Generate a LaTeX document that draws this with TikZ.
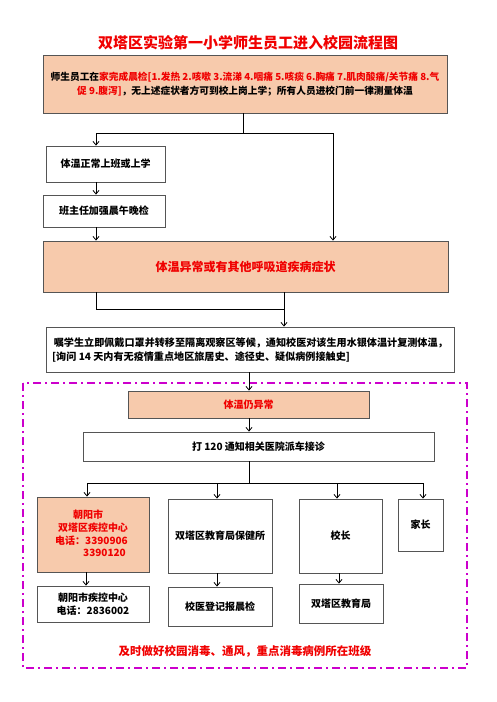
\documentclass[tikz,border=0pt]{standalone}
\usepackage{fontspec}
\setmainfont{Noto Sans CJK SC}
\usetikzlibrary{arrows.meta}
\definecolor{peach}{HTML}{F7CAAC}
\definecolor{bord}{HTML}{555555}
\definecolor{rd}{HTML}{F00000}
\definecolor{mag}{HTML}{CC00CC}
\begin{document}
\begin{tikzpicture}[x=1pt,y=-1pt,
  box/.style={draw=bord,line width=0.9pt,fill=white,inner sep=0pt,font=\bfseries\fontsize{10}{12}\selectfont,align=center},
  pbox/.style={box,fill=peach,text=rd},
  arr/.style={line width=0.8pt,-{Straight Barb[length=3.5pt,width=6pt]}},
  ln/.style={line width=0.8pt}]
\useasboundingbox (0,0) rectangle (496,702);
\node[font=\bfseries\fontsize{15}{18}\selectfont,text=rd] (title) at (248,43) {双塔区实验第一小学师生员工进入校园流程图};
\node[pbox,text=black,minimum width=404pt,minimum height=58pt,font=\bfseries\fontsize{9.7}{13.5}\selectfont] (top) at (245,84)
 {师生员工在\textcolor{rd}{家完成晨检[1.发热 2.咳嗽 3.流涕 4.咽痛 5.咳痰 6.胸痛 7.肌肉酸痛/关节痛 8.气}\\\textcolor{rd}{促 9.腹泻]}，无上述症状者方可到校上岗上学；所有人员进校门前一律测量体温};
\node[box,minimum width=119pt,minimum height=36pt] (n1) at (105.5,164) {体温正常上班或上学};
\node[box,minimum width=122pt,minimum height=32pt] (n2) at (104,211) {班主任加强晨午晚检};
\node[pbox,minimum width=405pt,minimum height=51pt,font=\bfseries\fontsize{12}{14}\selectfont] (big) at (245.5,266.5) {体温异常或有其他呼吸道疾病症状};
\node[box,minimum width=408pt,minimum height=45pt] (note) at (250,349.5) {};
\node[font=\bfseries\fontsize{10.1}{14}\selectfont,align=left,anchor=west,inner sep=0pt] (notet) at (52,350)
 {\,嘱学生立即佩戴口罩并转移至隔离观察区等候，通知校医对该生用水银体温计复测体温，\\{}[询问 14 天内有无疫情重点地区旅居史、途径史、疑似病例接触史]};
\draw[mag,line width=2pt,dash pattern=on 8pt off 4pt on 2pt off 4pt] (23,383) rectangle (467,668);
\node[pbox,minimum width=241pt,minimum height=27pt] (still) at (248.5,404.5) {体温仍异常};
\node[box,minimum width=351pt,minimum height=29pt] (call) at (258.5,446.5) {打 120 通知相关医院派车接诊};
\node[pbox,minimum width=112pt,minimum height=75pt] (A) at (93,534.5) {};
\node[font=\bfseries\fontsize{10}{12}\selectfont,text=rd,inner sep=0pt] (A1) at (88,515) {朝阳市};
\node[font=\bfseries\fontsize{10}{12}\selectfont,text=rd,inner sep=0pt] (A2t) at (93,528) {双塔区疾控中心};
\node[font=\bfseries\fontsize{10}{12}\selectfont,text=rd,inner sep=0pt,anchor=west] (A3) at (55,541) {电话：3390906};
\node[font=\bfseries\fontsize{10}{12}\selectfont,text=rd,inner sep=0pt,anchor=west] (A4) at (83,553) {3390120};
\node[box,minimum width=104pt,minimum height=74pt] (B) at (220,536) {双塔区教育局保健所};
\node[box,minimum width=83pt,minimum height=74pt] (C) at (340.5,536) {校长};
\node[box,minimum width=45pt,minimum height=52pt] (D) at (420.5,525) {家长};
\node[box,minimum width=112pt,minimum height=36pt,font=\bfseries\fontsize{10}{13}\selectfont] (AA) at (93,604) {朝阳市疾控中心\\电话：2836002};
\node[box,minimum width=104pt,minimum height=39pt] (BB) at (220,606.5) {校医登记报晨检};
\node[box,minimum width=84pt,minimum height=39pt] (CC) at (341,603.5) {双塔区教育局};
\node[font=\bfseries\fontsize{11.5}{14}\selectfont,text=rd] (foot) at (245,651) {及时做好校园消毒、通风，重点消毒病例所在班级};
% connectors
\coordinate (j0) at (243,133);
\coordinate (jL) at (96,133);
\coordinate (jR) at (333,133);
\draw[ln] (top.south -| j0) -- (j0);
\draw[ln] (jL) -- (jR);
\draw[arr] (jL) -- (jL |- n1.north);
\draw[arr] (jR) -- (jR |- big.north);
\draw[arr] (n1.south -| jL) -- (n2.north -| jL);
\draw[arr] (n2.south -| jL) -- (big.north -| jL);
\coordinate (k1) at (96,309);
\coordinate (k2) at (284,309);
\draw[ln] (big.south -| k1) -- (k1) -- (k2);
\draw[arr] (big.south -| k2) -- (note.north -| k2);
\coordinate (m) at (249,0);
\draw[arr] (note.south -| m) -- (still.north -| m);
\draw[arr] (still.south -| m) -- (call.north -| m);
\coordinate (bar) at (249,483);
\coordinate (bL) at (87,483);
\coordinate (bB) at (217,483);
\coordinate (bC) at (337,483);
\coordinate (bR) at (423,483);
\draw[ln] (call.south -| bar) -- (bar);
\draw[ln] (bL) -- (bR);
\draw[arr] (bL) -- (bL |- A.north);
\draw[arr] (bB) -- (bB |- B.north);
\draw[arr] (bC) -- (bC |- C.north);
\draw[arr] (bR) -- (bR |- D.north);
\coordinate (xa) at (86,0);
\coordinate (xb) at (217,0);
\coordinate (xc) at (339,0);
\draw[arr] (A.south -| xa) -- (AA.north -| xa);
\draw[arr] (B.south -| xb) -- (BB.north -| xb);
\draw[arr] (C.south -| xc) -- (CC.north -| xc);
\end{tikzpicture}
\end{document}
